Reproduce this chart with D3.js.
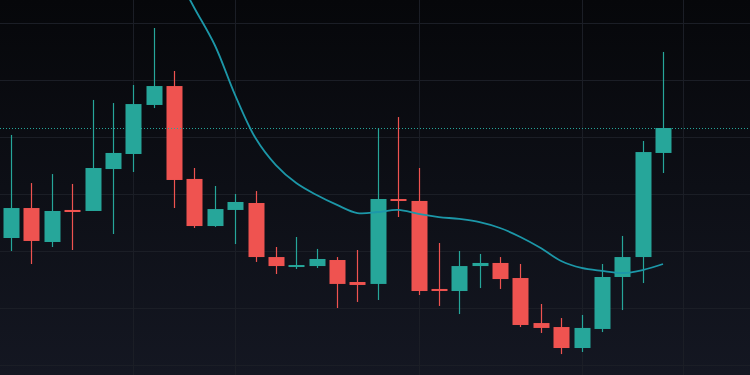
<!DOCTYPE html>
<html>
<head>
<meta charset="utf-8">
<script src="https://cdn.jsdelivr.net/npm/d3@7"></script>
<style>
  html, body { margin: 0; padding: 0; background: #0b0c10; }
  svg { display: block; }
</style>
</head>
<body>
<div id="chart"></div>
<script>
// ===== DATA =====
const opens  = [31.14, 33.77, 30.79, 33.60, 33.51, 37.19, 38.51, 42.81, 44.47, 36.32, 32.19, 33.60, 34.21, 29.47, 28.60, 28.68, 29.21,
                27.28, 27.11, 34.56, 34.39, 26.67, 26.49, 28.68, 28.95, 27.63, 23.68, 23.33, 21.49, 23.16, 27.72, 29.47, 38.60];
const highs  = [40.18, 35.96, 36.75, 35.88, 43.25, 42.98, 44.56, 49.56, 45.79, 37.28, 35.70, 35.00, 35.26, 30.35, 31.23, 30.18, 29.47,
                30.09, 40.79, 41.75, 37.28, 30.70, 30.00, 29.74, 29.47, 28.86, 25.35, 24.12, 24.39, 28.86, 31.32, 39.65, 47.46];
const lows   = [30.00, 28.86, 30.35, 30.09, 33.51, 31.49, 36.93, 42.54, 33.77, 32.02, 32.11, 30.61, 29.04, 27.98, 28.42, 28.51, 25.00,
                25.53, 25.70, 32.98, 26.14, 25.18, 24.47, 26.75, 26.67, 23.33, 22.81, 20.96, 21.14, 22.89, 24.82, 27.19, 36.84];
const closes = [33.77, 30.88, 33.51, 33.42, 37.28, 38.60, 42.89, 44.47, 36.23, 32.19, 33.68, 34.30, 29.47, 28.68, 28.77, 29.30, 27.11,
                27.02, 34.56, 34.39, 26.49, 26.49, 28.68, 28.95, 27.54, 23.51, 23.25, 21.49, 23.25, 27.72, 29.47, 38.68, 40.79];

// moving average (null = not computed yet)
const maValues = [null, null, null, null, null, null, null, null, 54.65, 51.32, 48.07, 43.68, 39.91, 37.54, 35.96, 34.91, 34.04,
                  33.33, 33.42, 33.60, 33.25, 32.98, 32.81, 32.54, 32.02, 31.23, 30.26, 29.12, 28.51, 28.25, 28.07, 28.33, 28.86];

const priceTicks = [20, 25, 30, 35, 40, 45, 50];
const timeTicks = [6, 11, 20, 28, 33];   // bar index of vertical grid lines

// ===== SETUP =====
const width = 750, height = 375;
const upColor = "#26a69a", downColor = "#ef5350", maColor = "#1c97a8";

const svg = d3.select("#chart").append("svg")
  .attr("width", width)
  .attr("height", height);

const defs = svg.append("defs");
const grad = defs.append("linearGradient")
  .attr("id", "bg").attr("x1", 0).attr("y1", 0).attr("x2", 0).attr("y2", 1);
grad.append("stop").attr("offset", "0%").attr("stop-color", "#06070a");
grad.append("stop").attr("offset", "100%").attr("stop-color", "#141722");

defs.append("clipPath").attr("id", "clip")
  .append("rect").attr("width", width).attr("height", height);

svg.append("rect").attr("width", width).attr("height", height).attr("fill", "url(#bg)");

const x = d3.scaleLinear().domain([0, opens.length - 1]).range([11, 663]);
const y = d3.scaleLinear().domain([20, 50]).range([365, 23]);

// ===== GRID =====
const grid = svg.append("g").attr("class", "grid");
grid.selectAll(".hgrid")
  .data(priceTicks)
  .enter().append("line")
  .attr("x1", 0).attr("x2", width)
  .attr("y1", d => Math.round(y(d)) + 0.5)
  .attr("y2", d => Math.round(y(d)) + 0.5)
  .attr("stroke", "#1b1e26").attr("stroke-width", 1);

grid.selectAll(".vgrid")
  .data(timeTicks)
  .enter().append("line")
  .attr("y1", 0).attr("y2", height)
  .attr("x1", d => Math.round(x(d)) + 0.5)
  .attr("x2", d => Math.round(x(d)) + 0.5)
  .attr("stroke", "#1b1e26").attr("stroke-width", 1);

// ===== CANDLES =====
const candles = opens.map((o, i) => ({ i, o, h: highs[i], l: lows[i], c: closes[i] }));
const bodyW = 16;

const g = svg.append("g").attr("clip-path", "url(#clip)");

g.selectAll(".wick")
  .data(candles)
  .enter().append("line")
  .attr("x1", d => Math.round(x(d.i)) + 0.5)
  .attr("x2", d => Math.round(x(d.i)) + 0.5)
  .attr("y1", d => y(d.h))
  .attr("y2", d => y(d.l))
  .attr("stroke", d => d.c >= d.o ? upColor : downColor)
  .attr("stroke-width", 1.2);

g.selectAll(".body")
  .data(candles)
  .enter().append("rect")
  .attr("x", d => Math.round(x(d.i)) - bodyW / 2 + 0.5)
  .attr("y", d => y(Math.max(d.o, d.c)))
  .attr("width", bodyW)
  .attr("height", d => Math.max(2, Math.abs(y(d.o) - y(d.c))))
  .attr("fill", d => d.c >= d.o ? upColor : downColor);

// ===== MOVING AVERAGE =====
const line = d3.line()
  .defined(d => d != null)
  .curve(d3.curveCatmullRom.alpha(0.5))
  .x((d, i) => x(i))
  .y(d => y(d));

g.append("path")
  .datum(maValues)
  .attr("d", line)
  .attr("fill", "none")
  .attr("stroke", maColor)
  .attr("stroke-width", 1.8)
  .attr("stroke-linejoin", "round");

// ===== LAST PRICE LINE =====
const last = closes[closes.length - 1];
svg.append("line")
  .attr("x1", 0).attr("x2", width)
  .attr("y1", Math.round(y(last)) + 0.5)
  .attr("y2", Math.round(y(last)) + 0.5)
  .attr("stroke", upColor)
  .attr("stroke-width", 1)
  .attr("stroke-dasharray", "1,2");
</script>
</body>
</html>
